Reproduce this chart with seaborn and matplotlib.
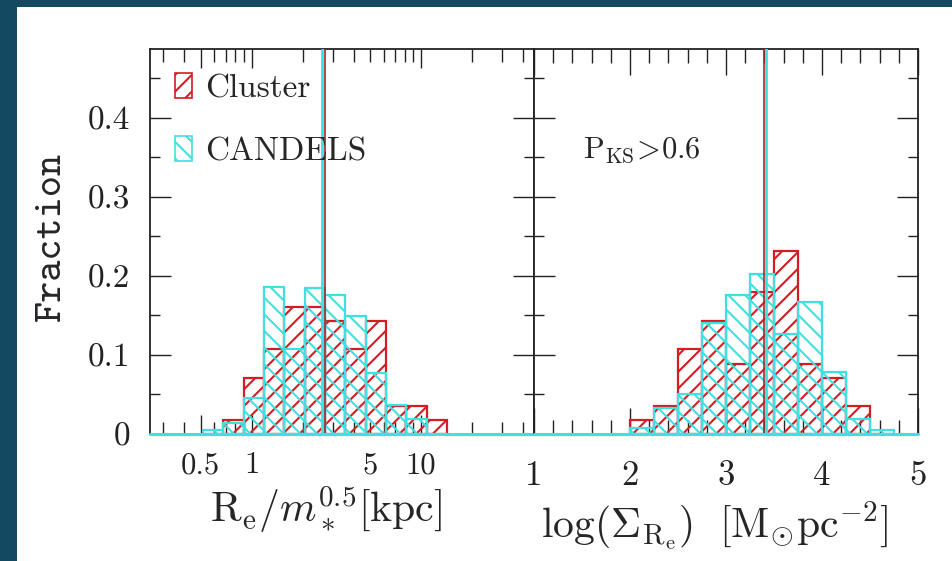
import numpy as np
import pandas as pd
import matplotlib
matplotlib.use("Agg")
import matplotlib.pyplot as plt
import seaborn as sns
from matplotlib.patches import Patch, Rectangle
from matplotlib.ticker import MultipleLocator

# ---------------- data ----------------
# left panel: log10(Re / m*^0.5 [kpc]) histogram
size_edges = [-0.287, -0.167, -0.047, 0.073, 0.193, 0.313, 0.433,
              0.553, 0.673, 0.793, 0.913, 1.033, 1.153]
size_cluster = [0.0, 0.018, 0.071, 0.107, 0.161, 0.161, 0.143,
                0.107, 0.143, 0.036, 0.036, 0.018]
size_candels = [0.005, 0.014, 0.045, 0.186, 0.108, 0.185, 0.176,
                0.149, 0.077, 0.037, 0.019, 0.0]
size_median_cluster = 0.433
size_median_candels = 0.413
size_tick_major = [0.5, 1, 10]
size_tick_minor = [0.3, 0.4, 0.6, 0.7, 0.8, 0.9, 2, 3, 4, 5, 6, 7, 8, 9, 20, 30, 40]
size_minor_labels = ['', '', '', '', '', '', '', '', '', '5', '', '', '', '', '', '', '']

# right panel: log(Sigma_Re) histogram
dens_edges = [2.0, 2.25, 2.5, 2.75, 3.0, 3.25, 3.5, 3.75, 4.0, 4.25, 4.5, 4.75]
dens_cluster = [0.018, 0.036, 0.107, 0.143, 0.089, 0.179, 0.232,
                0.089, 0.071, 0.036, 0.0]
dens_candels = [0.008, 0.033, 0.050, 0.140, 0.176, 0.203, 0.127,
                0.167, 0.078, 0.019, 0.005]
dens_median_cluster = 3.399
dens_median_candels = 3.412
dens_ticks = [1, 2, 3, 4, 5]

y_ticks = [0, 0.1, 0.2, 0.3, 0.4]
y_labels = ['0', '0.1', '0.2', '0.3', '0.4']

RED = '#d21e22'
RED_LINE = '#a82828'
CYAN = '#40e0e0'
BORDER = '#134a62'

# ---------------- style ----------------
sns.set_theme(style="ticks")
plt.rcParams.update({
    'font.family': ['cmr10', 'DejaVu Serif'],
    'mathtext.fontset': 'cm',
    'axes.formatter.use_mathtext': True,
    'axes.unicode_minus': False,
    'hatch.linewidth': 1.5,
    'axes.linewidth': 1.3,
    'axes.edgecolor': '#222222',
    'xtick.color': '#222222',
    'ytick.color': '#222222',
    'axes.facecolor': 'white',
})

fig = plt.figure(figsize=(9.53, 5.61), dpi=100, facecolor=BORDER)
fig.patches.append(Rectangle((17 / 953, 0), 1 - 17 / 953, 1 - 7 / 561,
                             transform=fig.transFigure, facecolor='white',
                             edgecolor='none', zorder=-1))

ax1 = fig.add_axes([150 / 953, 1 - 434 / 561, 384 / 953, 385 / 561])
ax2 = fig.add_axes([534 / 953, 1 - 434 / 561, 384 / 953, 385 / 561])


def draw_hist(ax, edges, values, color, hatch):
    centers = [(a + b) / 2 for a, b in zip(edges[:-1], edges[1:])]
    df = pd.DataFrame({'x': centers, 'w': values})
    sns.histplot(data=df, x='x', weights='w', bins=edges, stat='count',
                 element='bars', fill=False, color=color, hatch=hatch,
                 linewidth=1.6, ax=ax)


for ax, edges, cl, cd, mcl, mcd in [
        (ax1, size_edges, size_cluster, size_candels, size_median_cluster, size_median_candels),
        (ax2, dens_edges, dens_cluster, dens_candels, dens_median_cluster, dens_median_candels)]:
    draw_hist(ax, edges, cl, RED, '//')
    draw_hist(ax, edges, cd, CYAN, '\\\\')
    ax.axvline(mcl, color=RED_LINE, lw=1.2, zorder=5)
    ax.axvline(mcd, color=CYAN, lw=2.0, zorder=5)
    ax.axhline(0, color=CYAN, lw=2.2, zorder=6, clip_on=False)
    ax.set_ylim(0, 0.487)
    ax.set_yticks(y_ticks, labels=y_labels)
    ax.yaxis.set_minor_locator(MultipleLocator(0.05))
    ax.tick_params(which='both', direction='in', top=True, right=True)
    ax.tick_params(axis='y', which='major', length=15, width=1.0, labelsize=24, pad=14)
    ax.tick_params(axis='y', which='minor', length=7.5, width=1.0)
    ax.set_ylabel('')
    ax.set_xlabel('')

# left panel x axis (log10 units)
ax1.set_xlim(-0.601, 1.667)
ax1.set_xticks(np.log10(size_tick_major), labels=['0.5', '1', '10'])
ax1.set_xticks(np.log10(size_tick_minor), minor=True, labels=size_minor_labels)
ax1.tick_params(axis='x', which='major', length=14, width=1.0, labelsize=22, pad=13)
ax1.tick_params(axis='x', which='minor', length=9, width=1.0, labelsize=22, pad=13)

# right panel x axis
ax2.set_xlim(1, 5)
ax2.set_xticks(dens_ticks, labels=[str(t) for t in dens_ticks])
ax2.xaxis.set_minor_locator(MultipleLocator(0.2))
ax2.tick_params(axis='x', which='major', length=19, width=1.0, labelsize=25, pad=19)
ax2.tick_params(axis='x', which='minor', length=10, width=1.0)
ax2.tick_params(axis='y', labelleft=False)

# labels
ax1.set_ylabel('Fraction', fontsize=29, family='cmtt10')
ax1.yaxis.set_label_coords(-0.21, 0.514)
ax1.set_xlabel(r'$\mathrm{R_e}/m_*^{0.5}[\mathrm{kpc}]$', fontsize=30)
ax1.xaxis.set_label_coords(0.458, -0.128)
ax2.set_xlabel(r'$\log(\Sigma_{\mathrm{R_e}})\ \ [\mathrm{M_{\odot}pc^{-2}}]$', fontsize=30)
ax2.xaxis.set_label_coords(0.47, -0.17)

handles = [Patch(facecolor='none', edgecolor=RED, hatch='//', lw=1.2),
           Patch(facecolor='none', edgecolor=CYAN, hatch='\\\\', lw=1.2)]
ax1.legend(handles, ['Cluster', 'CANDELS'], loc='upper left',
           bbox_to_anchor=(0.065, 0.937), frameon=False, fontsize=24,
           handlelength=0.5, handleheight=0.75, handletextpad=0.4,
           labelspacing=1.0, borderpad=0, borderaxespad=0)

ax2.text(0.128, 0.717, r'$\mathrm{P_{KS}}\!>\!0.6$', transform=ax2.transAxes,
         fontsize=22, va='baseline', ha='left')

fig.savefig('out.png', dpi=100, facecolor=BORDER)
